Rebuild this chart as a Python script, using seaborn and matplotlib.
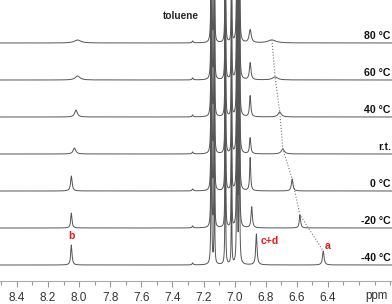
import numpy as np
import pandas as pd
import matplotlib
matplotlib.use("Agg")
import matplotlib.pyplot as plt
import seaborn as sns
from matplotlib.ticker import MultipleLocator

# stacked VT-NMR traces, top to bottom
temps = ['80 °C', '60 °C', '40 °C', 'r.t.', '0 °C', '-20 °C', '-40 °C']
offsets = [238, 201, 164, 127, 90, 53, 16]

# peak b
b_ppm = [8.01, 8.01, 8.02, 8.03, 8.05, 8.05, 8.05]
b_height = [3, 4, 7, 6, 15, 15, 20]
b_width = [0.025, 0.018, 0.010, 0.010, 0.006, 0.005, 0.005]

# peak a
a_ppm = [6.76, 6.74, 6.71, 6.69, 6.63, 6.58, 6.43]
a_height = [3, 3, 5, 5, 12, 13, 14]
a_width = [0.030, 0.020, 0.012, 0.012, 0.006, 0.005, 0.006]

# peak c+d
cd_ppm = [6.90, 6.90, 6.90, 6.90, 6.90, 6.89, 6.86]
cd_height = [13, 17, 21, 16, 33, 21, 31]
cd_width = [0.008, 0.006, 0.005, 0.005, 0.004, 0.005, 0.005]

# solvent (toluene-d8) signals, same in every trace
tol_ppm = [7.27, 7.15, 7.13, 7.06, 7.02, 6.985, 6.97]
tol_height = [2, 280, 140, 200, 110, 300, 300]
tol_width = [0.004, 0.0018, 0.0018, 0.0018, 0.0018, 0.0018, 0.0018]

ppm = np.arange(5.95, 8.55, 0.0004)


def lorentz(x, x0, h, w):
    return h / (1 + ((x - x0) / w) ** 2)


frames = []
for i, t in enumerate(temps):
    y = np.full_like(ppm, offsets[i], dtype=float)
    y += lorentz(ppm, b_ppm[i], b_height[i], b_width[i])
    y += lorentz(ppm, a_ppm[i], a_height[i], a_width[i])
    y += lorentz(ppm, cd_ppm[i], cd_height[i], cd_width[i])
    for p, h, w in zip(tol_ppm, tol_height, tol_width):
        y += lorentz(ppm, p, h, w)
    frames.append(pd.DataFrame({'ppm': ppm, 'intensity': y, 'temp': t}))
df = pd.concat(frames, ignore_index=True)

sns.set_style('white')
plt.rcParams['font.family'] = ['Liberation Sans', 'DejaVu Sans']

fig = plt.figure(figsize=(3.92, 3.04), dpi=100)
ax = fig.add_axes([0, 23 / 304, 1, 281 / 304])

sns.lineplot(data=df, x='ppm', y='intensity', hue='temp', palette=['#555555'] * len(temps),
             legend=False, sort=False, estimator=None, lw=0.7, ax=ax)

# dotted guide following peak a
guide_y = [o + h for o, h in zip(offsets, a_height)]
ax.plot(a_ppm, guide_y, ls=':', color='#777777', lw=0.8)

for t, o in zip(temps, offsets):
    ax.text(0.997, o + 2, t, transform=ax.get_yaxis_transform(), ha='right', va='bottom',
            fontsize=7.6, fontweight='bold', color='#111111')

ax.text(7.345, 265, 'toluene', ha='center', va='center', fontsize=7.3, fontweight='bold')
ax.text(8.05, 45, 'b', ha='center', va='center', fontsize=7.6, fontweight='bold', color='#e8191c')
ax.text(6.773, 40, 'c+d', ha='center', va='center', fontsize=7.6, fontweight='bold', color='#e8191c')
ax.text(6.40, 35, 'a', ha='center', va='center', fontsize=7.6, fontweight='bold', color='#e8191c')

ax.set_xlim(8.509, 5.988)
ax.set_ylim(0, 281)
ax.set_xlabel('')
ax.set_ylabel('')
ax.set_yticks([])
for s in ['top', 'left', 'right']:
    ax.spines[s].set_visible(False)
ax.spines['bottom'].set_color('#aaaaaa')
ax.spines['bottom'].set_linewidth(0.8)
ax.xaxis.set_major_locator(MultipleLocator(0.2))
ax.xaxis.set_minor_locator(MultipleLocator(0.1))
ax.tick_params(axis='x', which='both', direction='out', bottom=True, color='#999999', width=0.8,
               labelsize=8.5, labelcolor='#333333', pad=4)
ax.tick_params(axis='x', which='major', length=4)
ax.tick_params(axis='x', which='minor', length=3)
ax.set_xticks([6.4, 6.6, 6.8, 7.0, 7.2, 7.4, 7.6, 7.8, 8.0, 8.2, 8.4])
ax.text(6.09, -15, 'ppm', ha='center', va='center', fontsize=8.4, color='#333333', clip_on=False)

fig.savefig('out.png', dpi=100)
